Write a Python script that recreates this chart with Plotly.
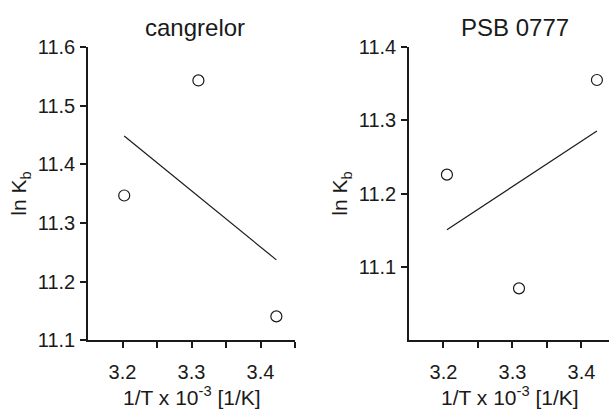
import numpy as np
import plotly.graph_objects as go

# Data
cang_x = [3.2025, 3.310, 3.423]
cang_y = [11.347, 11.543, 11.141]
psb_x = [3.205, 3.3095, 3.4225]
psb_y = [11.226, 11.071, 11.355]

titles = ["cangrelor", "PSB 0777"]
x_tickvals = [3.2, 3.25, 3.3, 3.35, 3.4, 3.45]
x_ticktext = ["3.2", "", "3.3", "", "3.4", ""]
cang_yticks = [11.1, 11.2, 11.3, 11.4, 11.5, 11.6]
psb_yticks = [11.1, 11.2, 11.3, 11.4]

W, H = 609, 413
TXT = "#1a1a1a"
FONT = "Liberation Sans, Arial, sans-serif"

def fit(xs, ys):
    k, b = np.polyfit(xs, ys, 1)
    xe = [min(xs), max(xs)]
    return xe, [k * v + b for v in xe]

fig = go.Figure()
for i, (xs, ys) in enumerate([(cang_x, cang_y), (psb_x, psb_y)]):
    xa = "x" if i == 0 else "x2"
    ya = "y" if i == 0 else "y2"
    fx, fy = fit(xs, ys)
    fig.add_trace(go.Scatter(x=fx, y=fy, mode="lines", line=dict(color=TXT, width=1.2),
                             xaxis=xa, yaxis=ya, showlegend=False, hoverinfo="skip"))
    fig.add_trace(go.Scatter(x=xs, y=ys, mode="markers",
                             marker=dict(symbol="circle-open", size=11, color=TXT, line=dict(width=1.2)),
                             xaxis=xa, yaxis=ya, showlegend=False))

ydom = [1 - 348 / H, 1 - 38 / H]
axis_common = dict(showline=True, linecolor=TXT, linewidth=1.5, ticks="outside", ticklen=6,
                   tickwidth=1.5, tickcolor=TXT, showgrid=False, zeroline=False,
                   tickfont=dict(family=FONT, size=20, color=TXT))

fig.update_layout(
    width=W, height=H, margin=dict(l=0, r=0, t=0, b=0),
    paper_bgcolor="white", plot_bgcolor="white",
    xaxis=dict(domain=[88 / W, 295 / W], range=[3.15, 3.45], tickmode="array",
               tickvals=x_tickvals, ticktext=x_ticktext, anchor="y", ticklabelstandoff=7,
               **axis_common),
    yaxis=dict(domain=ydom, range=[11.1, 11.6], tickmode="array", tickvals=cang_yticks,
               ticktext=[f"{v:.1f}" for v in cang_yticks], anchor="x", ticklabelstandoff=1,
               **axis_common),
    xaxis2=dict(domain=[409 / W, 1.0], range=[3.15, 3.44], tickmode="array",
                tickvals=x_tickvals, ticktext=x_ticktext, anchor="y2", ticklabelstandoff=7,
                **axis_common),
    yaxis2=dict(domain=ydom, range=[11.0, 11.4], tickmode="array", tickvals=psb_yticks,
                ticktext=[f"{v:.1f}" for v in psb_yticks], anchor="x2", ticklabelstandoff=1,
                **axis_common),
)

ann = []
# titles
for cx, t in [(195, titles[0]), (515, titles[1])]:
    ann.append(dict(x=cx / W, y=1 - 17 / H, xref="paper", yref="paper", text=t, showarrow=False,
                    font=dict(family=FONT, size=24, color=TXT), xanchor="center", yanchor="middle"))
# y titles
for cx in [20, 341]:
    ann.append(dict(x=cx / W, y=1 - 193 / H, xref="paper", yref="paper", text="ln K<sub>b</sub>",
                    showarrow=False, textangle=-90, font=dict(family=FONT, size=21, color=TXT),
                    xanchor="center", yanchor="middle"))
# x titles
for cx in [192, 510]:
    ann.append(dict(x=cx / W, y=1 - 407 / H, xref="paper", yref="paper",
                    text="1/T x 10<sup>-3</sup> [1/K]", showarrow=False,
                    font=dict(family=FONT, size=21, color=TXT), xanchor="center", yanchor="middle"))
fig.update_layout(annotations=ann)

fig.write_html("out.html")
